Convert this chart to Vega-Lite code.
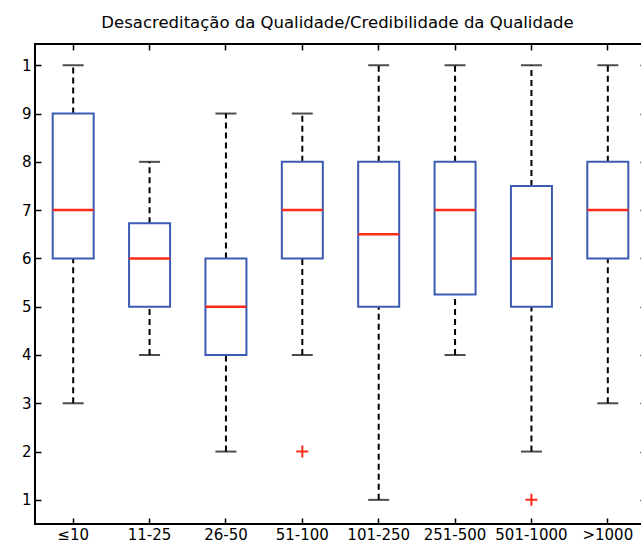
{
  "$schema": "https://vega.github.io/schema/vega-lite/v6.json",
  "width": 611,
  "height": 480,
  "autosize": {"type": "none"},
  "padding": {"left": 35, "top": 44, "right": 0, "bottom": 19},
  "title": {"text": "Desacreditação da Qualidade/Credibilidade da Qualidade", "font": "DejaVu Sans", "fontSize": 16.5, "fontWeight": "normal", "color": "black", "offset": 12, "anchor": "middle", "dx": -3},
  "config": {
    "view": {"stroke": "black", "strokeWidth": 2},
    "axis": {"grid": false, "domain": false, "tickColor": "black", "tickWidth": 1.5, "tickSize": -6, "labelFont": "DejaVu Sans", "labelFontSize": 15, "labelColor": "black", "title": null}
  },
  "datasets": {
    "boxes": [
      {"cat": "≤10", "lo": 3, "q1": 6, "med": 7, "q3": 9, "hi": 10},
      {"cat": "11-25", "lo": 4, "q1": 5, "med": 6, "q3": 6.73, "hi": 8},
      {"cat": "26-50", "lo": 2, "q1": 4, "med": 5, "q3": 6, "hi": 9},
      {"cat": "51-100", "lo": 4, "q1": 6, "med": 7, "q3": 8, "hi": 9},
      {"cat": "101-250", "lo": 1, "q1": 5, "med": 6.5, "q3": 8, "hi": 10},
      {"cat": "251-500", "lo": 4, "q1": 5.25, "med": 7, "q3": 8, "hi": 10},
      {"cat": "501-1000", "lo": 2, "q1": 5, "med": 6, "q3": 7.5, "hi": 10},
      {"cat": ">1000", "lo": 3, "q1": 6, "med": 7, "q3": 8, "hi": 10}
    ],
    "outliers": [
      {"cat": "51-100", "v": 2},
      {"cat": "501-1000", "v": 1}
    ]
  },
  "data": {"name": "boxes"},
  "resolve": {"axis": {"x": "independent", "y": "independent"}},
  "layer": [
    {
      "mark": {"type": "rule", "color": "black", "strokeWidth": 2, "strokeDash": [6, 4]},
      "encoding": {
        "x": {"field": "cat", "type": "nominal", "sort": null, "scale": {"paddingInner": 0, "paddingOuter": 0}, "axis": {"orient": "bottom", "labelAngle": 0, "labelPadding": 9}},
        "y": {"field": "lo", "type": "quantitative", "scale": {"domain": [0.5, 10.44], "nice": false, "zero": false}, "axis": {"orient": "left", "values": [1,2,3,4,5,6,7,8,9,10], "labelExpr": "datum.value == 10 ? '1' : datum.label", "labelPadding": 10}},
        "y2": {"field": "q1"}
      }
    },
    {
      "mark": {"type": "rule", "color": "black", "strokeWidth": 2, "strokeDash": [6, 4]},
      "encoding": {
        "x": {"field": "cat", "type": "nominal", "sort": null, "axis": {"orient": "top", "labels": false}},
        "y": {"field": "q3", "type": "quantitative", "axis": {"orient": "right", "labels": false, "values": [1,2,3,4,5,6,7,8,9,10]}},
        "y2": {"field": "hi"}
      }
    },
    {
      "mark": {"type": "tick", "color": "black", "size": 21, "thickness": 2},
      "encoding": {
        "x": {"field": "cat", "type": "nominal", "sort": null, "axis": null},
        "y": {"field": "lo", "type": "quantitative", "axis": null}
      }
    },
    {
      "mark": {"type": "tick", "color": "black", "size": 21, "thickness": 2},
      "encoding": {
        "x": {"field": "cat", "type": "nominal", "sort": null, "axis": null},
        "y": {"field": "hi", "type": "quantitative", "axis": null}
      }
    },
    {
      "mark": {"type": "bar", "size": 41, "fill": "white", "fillOpacity": 0, "stroke": "#3c5cb4", "strokeWidth": 2},
      "encoding": {
        "x": {"field": "cat", "type": "nominal", "sort": null, "axis": null},
        "y": {"field": "q1", "type": "quantitative", "axis": null},
        "y2": {"field": "q3"}
      }
    },
    {
      "mark": {"type": "tick", "color": "#ff2a1a", "size": 41, "thickness": 2.5, "opacity": 1},
      "encoding": {
        "x": {"field": "cat", "type": "nominal", "sort": null, "axis": null},
        "y": {"field": "med", "type": "quantitative", "axis": null}
      }
    },
    {
      "data": {"name": "outliers"},
      "mark": {"type": "point", "shape": "M-1,0L1,0M0,-1L0,1", "filled": false, "stroke": "#ff2a1a", "strokeWidth": 2, "size": 144, "opacity": 1},
      "encoding": {
        "x": {"field": "cat", "type": "nominal", "sort": null, "axis": null},
        "y": {"field": "v", "type": "quantitative", "axis": null}
      }
    }
  ]
}
